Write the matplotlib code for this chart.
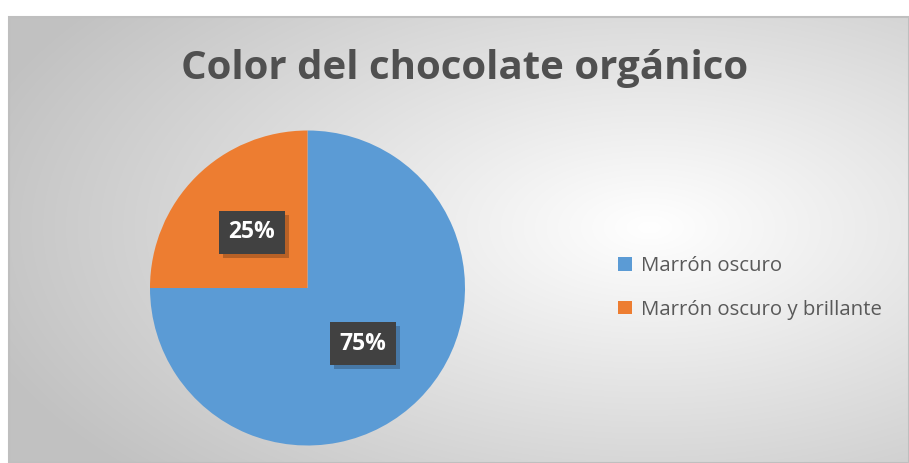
import numpy as np
import matplotlib.pyplot as plt
import matplotlib.patheffects as pe
from matplotlib.patches import Rectangle

categorias = ['Marrón oscuro', 'Marrón oscuro y brillante']
valores = [75, 25]
colores = ['#5B9BD5', '#ED7D31']
titulo = 'Color del chocolate orgánico'

W, H = 909, 463
fig = plt.figure(figsize=(W / 100, H / 100), dpi=100)
fig.patch.set_facecolor('white')

# fondo con degradado radial (estilo Excel)
bg = fig.add_axes([9 / W, 0, (W - 9) / W, (H - 17) / H])
bg.set_axis_off()
ny, nx = H - 17, W - 9
yy, xx = np.mgrid[0:ny, 0:nx]
cx, cy = 640, 210
r = np.sqrt(((xx - cx) / 700) ** 2 + ((yy - cy) / 360) ** 2)
r = np.clip(r, 0, 1)
light, dark = 1.0, 0.76
g = light + (dark - light) * r
img = np.dstack([g, g, g])
bg.imshow(img, aspect='auto', extent=(0, 1, 0, 1), origin='upper')
bg.set_xlim(0, 1)
bg.set_ylim(0, 1)
bg.add_patch(Rectangle((0, 0), 1, 1, transform=bg.transAxes, fill=False,
                       edgecolor='#bfbfbf', linewidth=1.5, clip_on=False))

# pastel
cxp, cyp, rad = 307.5, 288, 157.5
ax = fig.add_axes([(cxp - rad) / W, (H - cyp - rad) / H, 2 * rad / W, 2 * rad / H])
wedges, textos, pcts = ax.pie(valores, colors=colores, startangle=90, counterclock=False,
                              autopct='%1.0f%%', pctdistance=0.5, radius=1,
                              wedgeprops=dict(linewidth=0))
ax.set_xlim(-1, 1)
ax.set_ylim(-1, 1)
ax.set_aspect('equal')

for t in pcts:
    t.set_fontsize(16.5)
    t.set_fontweight('bold')
    t.set_color('white')
    t.set_family('Open Sans')
    t.set_bbox(dict(boxstyle='square,pad=0.42', facecolor='#414141', linewidth=0))
    t.get_bbox_patch().set_path_effects([
        pe.SimplePatchShadow(offset=(3, -3), shadow_rgbFace='black', alpha=0.22),
        pe.Normal()])

fig.text(0.511, 0.853, titulo, ha='center', va='center', fontsize=29,
         fontweight='bold', color='#505050', family='Open Sans')

leg = fig.legend(wedges, categorias, loc='center left', bbox_to_anchor=(600 / W, 1 - 288 / H),
                 frameon=False, labelspacing=1.15,
                 handlelength=0.65, handleheight=0.65, handletextpad=0.45,
                 prop={'family': 'Open Sans', 'size': 14.7})
for t in leg.get_texts():
    t.set_color('#595959')

fig.savefig('out.png', dpi=100)
